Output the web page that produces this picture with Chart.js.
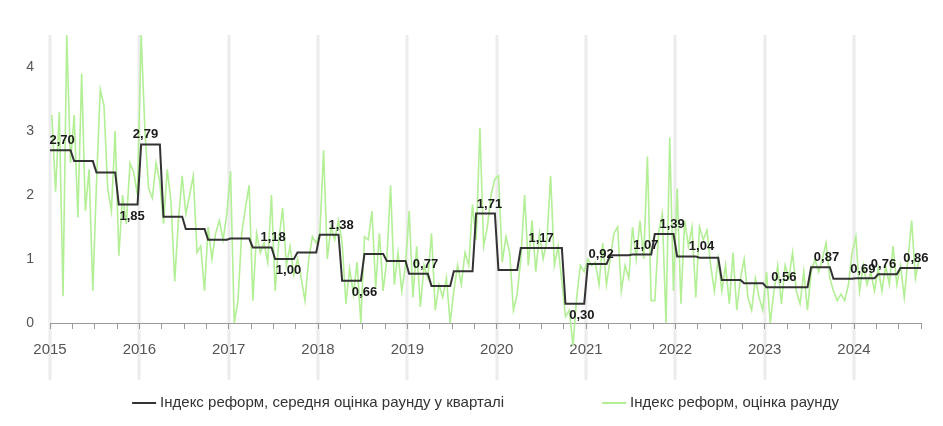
<!DOCTYPE html>
<html lang="uk">
<head>
<meta charset="utf-8">
<script src="https://cdn.jsdelivr.net/npm/chart.js@4.4.1/dist/chart.umd.min.js"></script>
<style>
  html, body { margin: 0; padding: 0; background: #fff; }
</style>
</head>
<body>
<canvas id="chart" width="943" height="426"></canvas>
<script>
/* ── DATA ── */

const years = [2015, 2016, 2017, 2018, 2019, 2020, 2021, 2022, 2023, 2024];

const seriesNames = [
  'Індекс реформ, середня оцінка раунду у кварталі',
  'Індекс реформ, оцінка раунду'
];

// quarterly averages, 2015 Q1 … 2024 Q3
const quarterMeans = [
  2.70, 2.53, 2.35, 1.85,
  2.79, 1.66, 1.47, 1.30,
  1.32, 1.18, 1.00, 1.10,
  1.38, 0.66, 1.08, 0.97,
  0.77, 0.58, 0.81, 1.71,
  0.83, 1.17, 1.17, 0.30,
  0.92, 1.06, 1.07, 1.39,
  1.04, 1.02, 0.67, 0.62,
  0.56, 0.56, 0.87, 0.69,
  0.70, 0.76, 0.86
];

// round scores, two rounds a month
const rounds2015 = [3.25, 2.05, 3.3, 0.42, 4.5, 2.5, 3.25, 1.65, 3.9, 1.75, 2.4, 0.5,
                    2.2, 3.65, 3.4, 2.1, 1.75, 3.0, 1.05, 2.0, 1.55, 2.5, 2.35, 2.0];
const rounds2016 = [4.5, 3.0, 2.1, 1.95, 2.5, 2.2, 1.55, 2.4, 1.9, 0.65, 1.6, 2.3,
                    1.7, 2.0, 2.3, 1.1, 1.2, 0.5, 1.5, 1.0, 1.4, 1.6, 1.3, 1.7];
const rounds2017 = [2.37, 0.0, 0.35, 1.4, 1.8, 2.15, 0.35, 1.4, 1.1, 1.25, 0.95, 2.0,
                    0.5, 1.3, 1.8, 0.9, 1.2, 0.75, 1.0, 0.7, 0.35, 1.0, 1.35, 1.25];
const rounds2018 = [1.4, 2.7, 1.0, 1.5, 1.3, 1.6, 1.25, 0.3, 0.85, 0.45, 0.95, 0.0,
                    1.35, 1.3, 1.75, 0.55, 1.4, 0.5, 1.0, 2.15, 0.6, 1.1, 0.5, 0.9];
const rounds2019 = [1.75, 0.4, 1.2, 0.25, 0.9, 0.7, 1.4, 0.2, 0.6, 0.4, 0.7, 0.0,
                    0.5, 0.9, 0.6, 1.1, 0.9, 1.85, 1.3, 3.05, 1.2, 1.5, 2.0, 2.25];
const rounds2020 = [2.3, 0.95, 1.35, 1.1, 0.2, 0.45, 1.0, 2.0, 0.9, 1.6, 0.8, 1.4,
                    1.0, 1.3, 2.3, 0.9, 1.2, 0.65, 0.1, 0.2, -0.35, 0.4, 0.9, 0.8];
const rounds2021 = [1.0, 0.9, 0.95, 0.6, 1.25, 0.6, 1.0, 1.4, 1.5, 0.5, 0.9, 0.7,
                    1.5, 1.0, 1.6, 1.0, 2.6, 0.35, 0.35, 1.4, 1.7, 0.0, 2.9, 0.5];
const rounds2022 = [2.1, 0.3, 1.6, 1.2, 1.5, 0.4, 1.5, 1.3, 1.45, 0.9, 0.5, 1.0,
                    0.5, 0.9, 0.3, 1.1, 0.2, 0.7, 1.0, 0.4, 0.2, 0.7, 0.4, 0.2];
const rounds2023 = [0.8, 0.0, 0.5, 0.9, 0.3, 0.9, 0.7, 1.1, 0.5, 0.3, 0.8, 0.2,
                    0.8, 1.0, 0.8, 1.0, 1.25, 0.7, 0.5, 0.35, 0.45, 0.35, 0.6, 1.1];
const rounds2024 = [1.35, 0.5, 0.9, 0.6, 0.8, 0.5, 0.85, 0.5, 0.9, 0.6, 1.2, 0.6,
                    0.9, 0.4, 1.0, 1.6, 0.7, 1.0];

const roundsByYear = [rounds2015, rounds2016, rounds2017, rounds2018, rounds2019,
                      rounds2020, rounds2021, rounds2022, rounds2023, rounds2024];

/* ── BUILD POINTS ── */

const FONT = '"Liberation Sans", Arial, Helvetica, sans-serif';
Chart.defaults.font.family = FONT;

const firstYear = years[0];
const lastX = firstYear + quarterMeans.length / 4;

const roundPoints = [];
roundsByYear.forEach((vals, yi) => {
  vals.forEach((v, i) => roundPoints.push({ x: years[yi] + (i + 0.5) / 24, y: v }));
});

const stepPoints = [];
quarterMeans.forEach((v, q) => {
  const start = firstYear + q / 4;
  const end   = start + 0.25;
  stepPoints.push({ x: q === 0 ? start : start + 0.02, y: v });
  stepPoints.push({ x: q === quarterMeans.length - 1 ? end : end - 0.02, y: v });
});

/* ── PLUGINS ── */

// which quarter gets a value label: [above/below, nudge]
const labelPlace = {
  0: ['up', 1],   3: ['down', 4],  4: ['up', -5],  9: ['up', 11], 10: ['down', 4],
  12: ['up', 12], 13: ['down', 13], 16: ['up', 7], 19: ['up', 4], 21: ['up', 11],
  23: ['down', 7], 24: ['up', 4],  26: ['up', 4], 27: ['up', 8], 28: ['up', 15],
  32: ['up', 8],  34: ['up', 6],   35: ['up', 20], 37: ['up', -4], 38: ['up', 6]
};

const yearGrid = {
  id: 'yearGrid',
  beforeDraw(chart) {
    const { ctx, chartArea, scales: { x } } = chart;
    ctx.save();
    ctx.strokeStyle = '#ececec';
    ctx.lineWidth = 3;
    years.forEach(yr => {
      const px = Math.round(x.getPixelForValue(yr));
      ctx.beginPath();
      ctx.moveTo(px, chartArea.top);
      ctx.lineTo(px, chartArea.bottom + 57);
      ctx.stroke();
    });
    ctx.restore();
  }
};

const stepLabels = {
  id: 'stepLabels',
  afterDatasetsDraw(chart) {
    const { ctx, scales: { x, y } } = chart;
    ctx.save();
    ctx.font = 'bold 13px ' + FONT;
    ctx.fillStyle = '#1a1a1a';
    ctx.textAlign = 'center';
    ctx.textBaseline = 'alphabetic';
    Object.entries(labelPlace).forEach(([q, [side, dx]]) => {
      const v  = quarterMeans[q];
      const cx = x.getPixelForValue(firstYear + q / 4 + 0.125) + dx;
      const py = y.getPixelForValue(v);
      ctx.fillText(v.toFixed(2).replace('.', ','), cx, side === 'up' ? py - 6 : py + 15);
    });
    ctx.restore();
  }
};

const bottomLegend = {
  id: 'bottomLegend',
  afterDraw(chart) {
    const { ctx, chartArea } = chart;
    const ds = chart.data.datasets;
    ctx.save();
    ctx.font = '15px ' + FONT;
    const lineW = 24, textGap = 4, itemGap = 98, yPos = 403;
    const widths = ds.map(d => lineW + textGap + ctx.measureText(d.label).width);
    let xPos = (chartArea.left + chartArea.right) / 2 - (widths[0] + widths[1] + itemGap) / 2;
    ds.forEach((d, i) => {
      ctx.strokeStyle = d.borderColor;
      ctx.lineWidth = 2;
      ctx.beginPath();
      ctx.moveTo(xPos, yPos);
      ctx.lineTo(xPos + lineW, yPos);
      ctx.stroke();
      ctx.fillStyle = '#333';
      ctx.textBaseline = 'middle';
      ctx.fillText(d.label, xPos + lineW + textGap, yPos);
      xPos += widths[i] + itemGap;
    });
    ctx.restore();
  }
};

/* ── CHART ── */

new Chart(document.getElementById('chart'), {
  type: 'line',
  data: {
    datasets: [
      {
        label: seriesNames[0],
        data: stepPoints,
        borderColor: '#333333',
        borderWidth: 2,
        pointRadius: 0,
        tension: 0,
        order: 0
      },
      {
        label: seriesNames[1],
        data: roundPoints,
        borderColor: '#b2ef95',
        borderWidth: 1.6,
        pointRadius: 0,
        tension: 0,
        order: 1,
        clip: { left: 10, top: 0, right: 10, bottom: false }
      }
    ]
  },
  options: {
    responsive: false,
    animation: false,
    layout: { padding: { top: 35, right: 22, bottom: 0, left: 0 } },
    plugins: {
      legend: { display: false },
      tooltip: { enabled: false }
    },
    scales: {
      x: {
        type: 'linear',
        min: firstYear,
        max: lastX,
        afterFit: s => { s.height = 103; },
        border: { display: true, color: '#9a9a9a', width: 1 },
        grid: { drawOnChartArea: false, drawTicks: true, tickLength: 6, color: '#9a9a9a' },
        ticks: {
          stepSize: 0.25,
          autoSkip: false,
          maxRotation: 0,
          padding: 12,
          color: '#555',
          font: { size: 15 },
          callback: v => Number.isInteger(v) ? String(v) : ''
        }
      },
      y: {
        min: 0,
        max: 4.5,
        afterFit: s => { s.width = 50; },
        border: { display: false },
        grid: { display: false, drawTicks: false },
        ticks: {
          stepSize: 1,
          padding: 16,
          color: '#555',
          font: { size: 14 },
          callback: v => Number.isInteger(v) ? String(v) : ''
        }
      }
    }
  },
  plugins: [yearGrid, stepLabels, bottomLegend]
});
</script>
</body>
</html>
